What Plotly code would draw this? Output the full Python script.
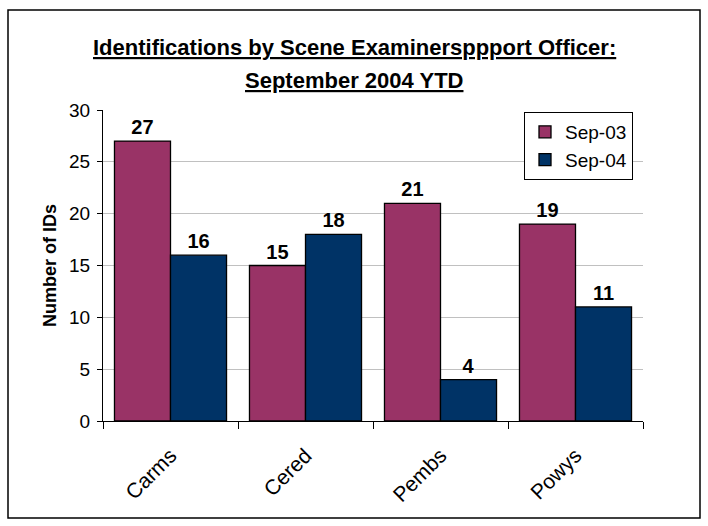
import plotly.graph_objects as go

categories = ["Carms", "Cered", "Pembs", "Powys"]
series_names = ["Sep-03", "Sep-04"]
sep03_values = [27, 15, 21, 19]
sep04_values = [16, 18, 4, 11]
y_ticks = [0, 5, 10, 15, 20, 25, 30]

colors = ["#993366", "#003366"]
FONT = "Liberation Sans, Arial, sans-serif"

W, H = 708, 526
ml, mr, mt, mb = 103, 65, 110, 105
pw, ph = W - ml - mr, H - mt - mb

def px_to_paper_x(px):
    return (px - ml) / pw

def px_to_paper_y(py):
    return (H - mb - py) / ph

fig = go.Figure()
for name, vals, col in zip(series_names, [sep03_values, sep04_values], colors):
    fig.add_trace(go.Bar(
        x=categories, y=vals, name=name,
        marker=dict(color=col, line=dict(color="black", width=1.3)),
        text=[str(v) for v in vals], textposition="outside",
        textfont=dict(family=FONT, size=20, color="black", weight="bold"),
        cliponaxis=False,
    ))

fig.update_layout(
    width=W, height=H,
    margin=dict(l=ml, r=mr, t=mt, b=mb, autoexpand=False),
    paper_bgcolor="white", plot_bgcolor="white",
    barmode="group", bargap=0.17, bargroupgap=0,
    font=dict(family=FONT, size=18, color="black"),
    showlegend=True,
    legend=dict(
        x=px_to_paper_x(524), y=px_to_paper_y(112), xanchor="left", yanchor="top",
        bgcolor="white", bordercolor="black", borderwidth=1,
        font=dict(size=19), itemwidth=30,
    ),
    xaxis=dict(
        type="category", tickangle=-45, showline=True, linecolor="black", linewidth=1,
        ticks="outside", ticklen=7, tickcolor="black", tickson="boundaries",
        tickfont=dict(size=21), showgrid=False, ticklabelstandoff=13,
    ),
    yaxis=dict(
        range=[0, 30], tickvals=y_ticks, showline=True, linecolor="black", linewidth=1,
        ticks="outside", ticklen=5, tickcolor="black",
        showgrid=True, gridcolor="#c0c0c0", gridwidth=1, zeroline=False,
        tickfont=dict(size=19), ticklabelstandoff=3,
        title=dict(text="<b>Number of IDs</b>", font=dict(size=18), standoff=7),
    ),
    shapes=[dict(
        type="rect", xref="paper", yref="paper",
        x0=px_to_paper_x(8), x1=px_to_paper_x(700),
        y0=px_to_paper_y(518), y1=px_to_paper_y(10),
        line=dict(color="black", width=1.5), fillcolor="rgba(0,0,0,0)", layer="below",
    )],
    annotations=[
        dict(text="<b>Identifications by Scene Examinersppport Officer:</b>",
             xref="paper", yref="paper", x=px_to_paper_x(354), y=px_to_paper_y(47),
             xanchor="center", yanchor="middle", showarrow=False,
             font=dict(size=22, lineposition="under")),
        dict(text="<b>September 2004 YTD</b>",
             xref="paper", yref="paper", x=px_to_paper_x(354), y=px_to_paper_y(80),
             xanchor="center", yanchor="middle", showarrow=False,
             font=dict(size=22, lineposition="under")),
    ],
)

fig.write_html("out.html", config={"displayModeBar": False},
               post_script="document.body.style.margin='0';")
